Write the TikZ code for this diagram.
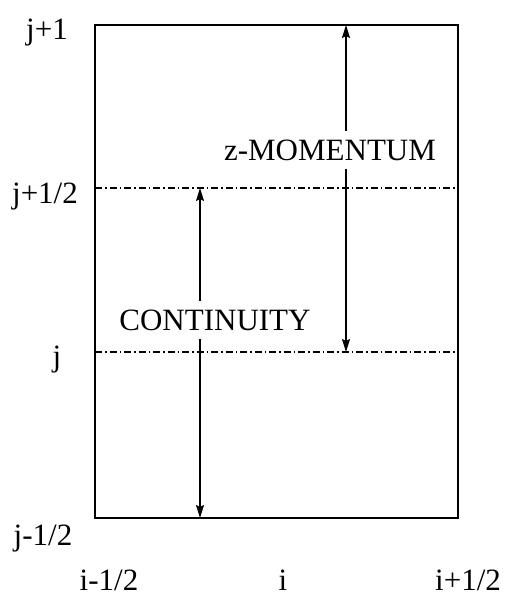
\documentclass[tikz,border=0pt]{standalone}
\usepackage{fontspec}
\setmainfont{Liberation Serif}
\usetikzlibrary{arrows.meta}

\tikzset{
  cellline/.style={line width=1.5pt},
  halfline/.style={line width=1.1pt, dash pattern=on 7pt off 3pt on 1.5pt off 3pt},
  dimarrow/.style={line width=1.5pt, {Stealth[length=13pt,width=8pt,inset=2pt]}-{Stealth[length=13pt,width=8pt,inset=2pt]}},
  eqlabel/.style={fill=white, inner sep=9pt, font=\fontsize{31}{36}\selectfont},
  gridlabel/.style={anchor=base, inner sep=0pt, font=\fontsize{31}{36}\selectfont}
}

\begin{document}
\begin{tikzpicture}[x=1pt,y=-1pt]
  \useasboundingbox (0,0) rectangle (506,596);

  % cell corners and half levels
  \coordinate (sw) at (95,518);
  \coordinate (ne) at (458,25);
  \coordinate (half-w) at (95,188);
  \coordinate (half-e) at (458,188);
  \coordinate (mid-w) at (95,352);
  \coordinate (mid-e) at (458,352);

  \draw[cellline] (sw) rectangle (ne);
  \draw[halfline] (half-w) -- (half-e);
  \draw[halfline] (mid-w) -- (mid-e);

  % control volumes
  \coordinate (cont-bot) at (200,518);
  \coordinate (cont-top) at (200,188);
  \coordinate (mom-bot) at (346,352);
  \coordinate (mom-top) at (346,25);
  \draw[dimarrow] (cont-bot) -- (cont-top);
  \draw[dimarrow] (mom-bot) -- (mom-top);
  \node[eqlabel] (continuity) at (215,320) {CONTINUITY};
  \node[eqlabel] (zmomentum) at (330,150) {z-MOMENTUM};

  % grid indices
  \node[gridlabel] (jp1) at (47,40) {j+1};
  \node[gridlabel] (jph) at (45,203) {j+1/2};
  \node[gridlabel] (j) at (57,366) {j};
  \node[gridlabel] (jmh) at (43,545) {j-1/2};
  \node[gridlabel] (imh) at (109,590) {i-1/2};
  \node[gridlabel] (i) at (283,590) {i};
  \node[gridlabel] (iph) at (468,590) {i+1/2};
\end{tikzpicture}
\end{document}
